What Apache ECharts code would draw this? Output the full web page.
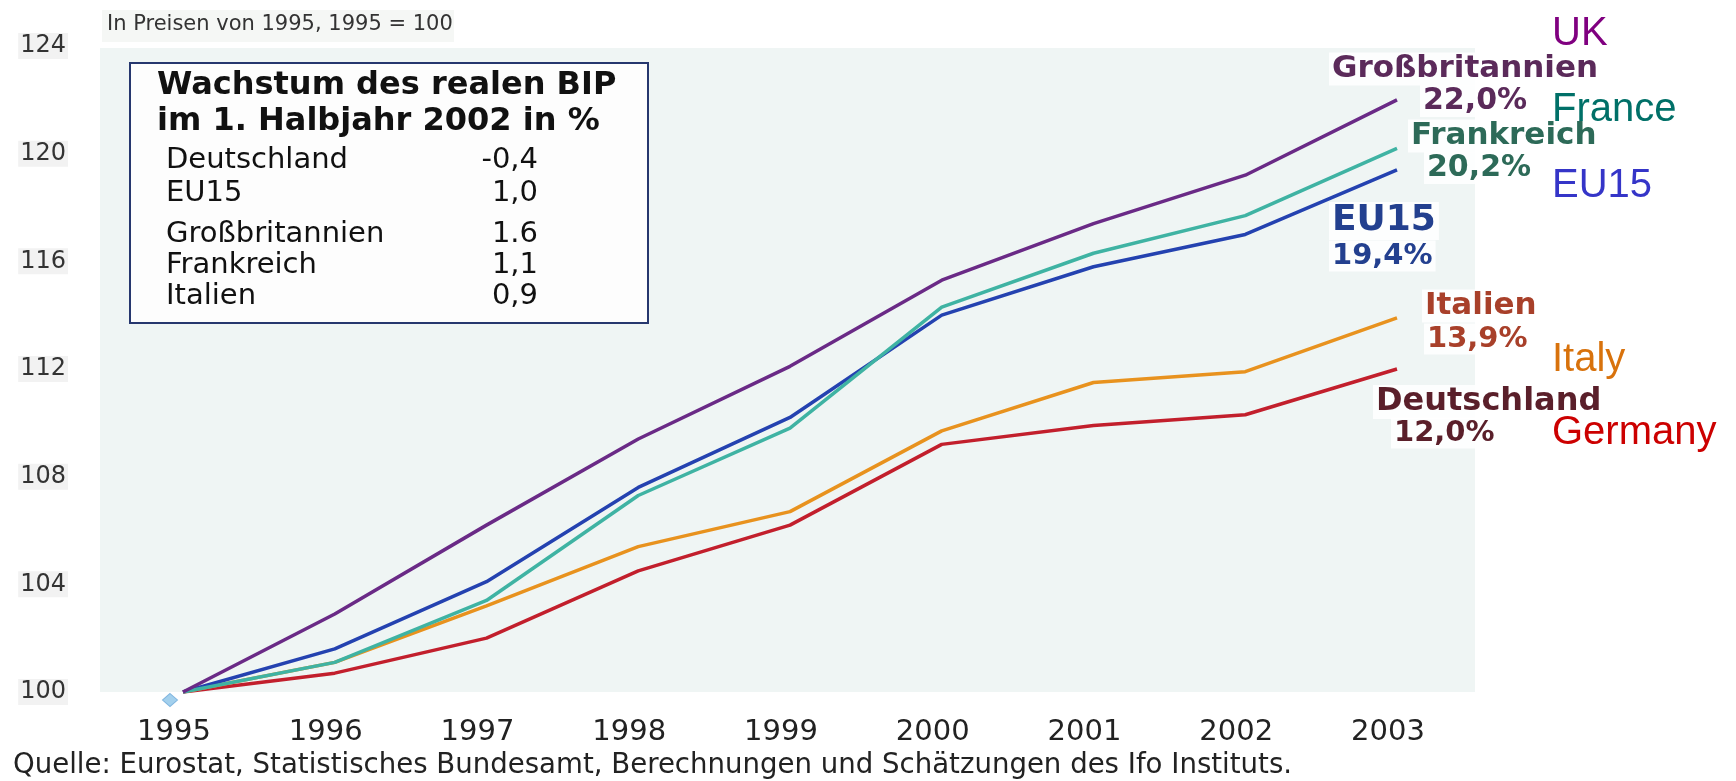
<!DOCTYPE html>
<html>
<head>
<meta charset="utf-8">
<script src="https://cdn.jsdelivr.net/npm/echarts@6/dist/echarts.min.js"></script>
<style>
html,body{margin:0;padding:0;background:#fff;}
#main{width:1736px;height:781px;}
</style>
</head>
<body>
<div id="main"></div>
<script>
var years = ['1995', '1996', '1997', '1998', '1999', '2000', '2001', '2002', '2003'];
var yTicks = [100, 104, 108, 112, 116, 120, 124];

var ukData      = [100, 102.9, 106.2, 109.4, 112.1, 115.3, 117.4, 119.2, 122.0];
var franceData  = [100, 101.1, 103.4, 107.3, 109.8, 114.3, 116.3, 117.7, 120.2];
var eu15Data    = [100, 101.6, 104.1, 107.6, 110.2, 114.0, 115.8, 117.0, 119.4];
var italyData   = [100, 101.1, 103.2, 105.4, 106.7, 109.7, 111.5, 111.9, 113.9];
var germanyData = [100, 100.7, 102.0, 104.5, 106.2, 109.2, 109.9, 110.3, 112.0];

var germanNames  = ['Großbritannien', 'Frankreich', 'EU15', 'Italien', 'Deutschland'];
var englishNames = ['UK', 'France', 'EU15', 'Italy', 'Germany'];

// Kasten: Wachstum des realen BIP im 1. Halbjahr 2002 in %
var boxTitle = ['Wachstum des realen BIP', 'im 1. Halbjahr 2002 in %'];
var boxNames = ['Deutschland', 'EU15', 'Großbritannien', 'Frankreich', 'Italien'];
var boxValues = ['-0,4', '1,0', '1.6', '1,1', '0,9'];

var subtitle = 'In Preisen von 1995, 1995 = 100';
var source = 'Quelle: Eurostat, Statistisches Bundesamt, Berechnungen und Schätzungen des Ifo Instituts.';

var font = '"DejaVu Sans", sans-serif';
var lineColors = ['#6a2a86', '#3fb3a3', '#2442b0', '#e8921e', '#c21f2c'];
var allData = [ukData, franceData, eu15Data, italyData, germanyData];

function pct(arr) {
	return (arr[arr.length - 1] - 100).toFixed(1).replace('.', ',') + '%';
}

var chart = echarts.init(document.getElementById('main'));

var series = [];
for (var i = 0; i < allData.length; i++) {
	series.push({
		name: germanNames[i],
		type: 'line',
		data: allData[i],
		symbol: 'none',
		smooth: false,
		lineStyle: { color: lineColors[i], width: 3.5 },
		z: 5 - i + 2
	});
}
series.push({
	type: 'scatter',
	data: [[years[0], 100]],
	symbol: 'diamond',
	symbolSize: [15, 13],
	symbolOffset: [-13, 8],
	itemStyle: { color: '#8cc4e8', borderColor: '#6aa8d8', borderWidth: 1 },
	z: 1
});

// Textelemente
var graphics = [
	{ type: 'rect', shape: { x: 100, y: 48, width: 1375, height: 644 }, style: { fill: '#eff5f4' }, z: -10 },
	{ type: 'rect', shape: { x: 102, y: 10, width: 352, height: 32 }, style: { fill: '#f5f7f5' }, z: -10 },
	{ type: 'text', x: 107, y: 25, style: { text: subtitle, font: '21px ' + font, fill: '#333', textVerticalAlign: 'middle' } },
	{ type: 'text', x: 13, y: 766, style: { text: source, font: '27.6px ' + font, fill: '#222', textVerticalAlign: 'middle' } },
	{ type: 'rect', shape: { x: 130, y: 63, width: 518, height: 260 }, style: { fill: '#fdfdfd', stroke: '#26376e', lineWidth: 2 }, z: 10 }
];

var titleY = [86, 122];
for (var t = 0; t < boxTitle.length; t++) {
	graphics.push({ type: 'text', x: 157, y: titleY[t], z: 11,
		style: { text: boxTitle[t], font: 'bold 32px ' + font, fill: '#111', textVerticalAlign: 'middle' } });
}
var rowY = [160, 193, 234, 265, 296];
for (var r = 0; r < boxNames.length; r++) {
	graphics.push({ type: 'text', x: 166, y: rowY[r], z: 11,
		style: { text: boxNames[r], font: '29px ' + font, fill: '#111', textVerticalAlign: 'middle' } });
	graphics.push({ type: 'text', x: 538, y: rowY[r], z: 11,
		style: { text: boxValues[r], font: '29px ' + font, fill: '#111', textAlign: 'right', textVerticalAlign: 'middle' } });
}

// Beschriftung am Linienende
var endLabels = [
	{ name: 0, x: 1329, y: 69, px: 1420, py: 101, color: '#5b2a5a', size: 31, psize: 30 },
	{ name: 1, x: 1408, y: 136, px: 1424, py: 168, color: '#2d6a58', size: 31, psize: 30 },
	{ name: 2, x: 1329, y: 221, px: 1329, py: 256, color: '#23408f', size: 36, psize: 29 },
	{ name: 3, x: 1422, y: 306, px: 1424, py: 339, color: '#a8402a', size: 31, psize: 29 },
	{ name: 4, x: 1373, y: 402, px: 1391, py: 433, color: '#5a1f2a', size: 32, psize: 29 }
];
for (var k = 0; k < endLabels.length; k++) {
	var e = endLabels[k];
	graphics.push({ type: 'text', x: e.x, y: e.y, z: 11,
		style: { text: germanNames[e.name], font: 'bold ' + e.size + 'px ' + font, fill: e.color,
			textVerticalAlign: 'middle', backgroundColor: 'rgba(255,255,255,0.85)', padding: [1, 3] } });
	graphics.push({ type: 'text', x: e.px, y: e.py, z: 11,
		style: { text: pct(allData[e.name]), font: 'bold ' + e.psize + 'px ' + font, fill: e.color,
			textVerticalAlign: 'middle', backgroundColor: 'rgba(255,255,255,0.85)', padding: [1, 3] } });
}

var engColors = ['#800080', '#007068', '#3535c8', '#d8720c', '#cc0000'];
var engY = [34, 110, 186, 360, 433];
for (var n = 0; n < englishNames.length; n++) {
	graphics.push({ type: 'text', x: 1552, y: engY[n], z: 12,
		style: { text: englishNames[n], font: '40px "Liberation Sans", Arial, sans-serif', fill: engColors[n], textVerticalAlign: 'middle' } });
}

chart.setOption({
	backgroundColor: '#ffffff',
	animation: false,
	grid: { left: 183, right: 339, top: 46, bottom: 89 },
	xAxis: {
		type: 'category',
		data: years,
		boundaryGap: false,
		axisLine: { show: false },
		axisTick: { show: false },
		splitLine: { show: false },
		axisLabel: { fontFamily: font, fontSize: 29, color: '#222', margin: 26, padding: [0, 18, 0, 0] }
	},
	yAxis: {
		type: 'value',
		min: yTicks[0],
		max: yTicks[yTicks.length - 1],
		interval: 4,
		axisLine: { show: false },
		axisTick: { show: false },
		splitLine: { show: false },
		axisLabel: { fontFamily: font, fontSize: 24, color: '#333', margin: 115, backgroundColor: '#f2f2f2', padding: [1, 2] }
	},
	series: series,
	graphic: graphics
});
</script>
</body>
</html>
